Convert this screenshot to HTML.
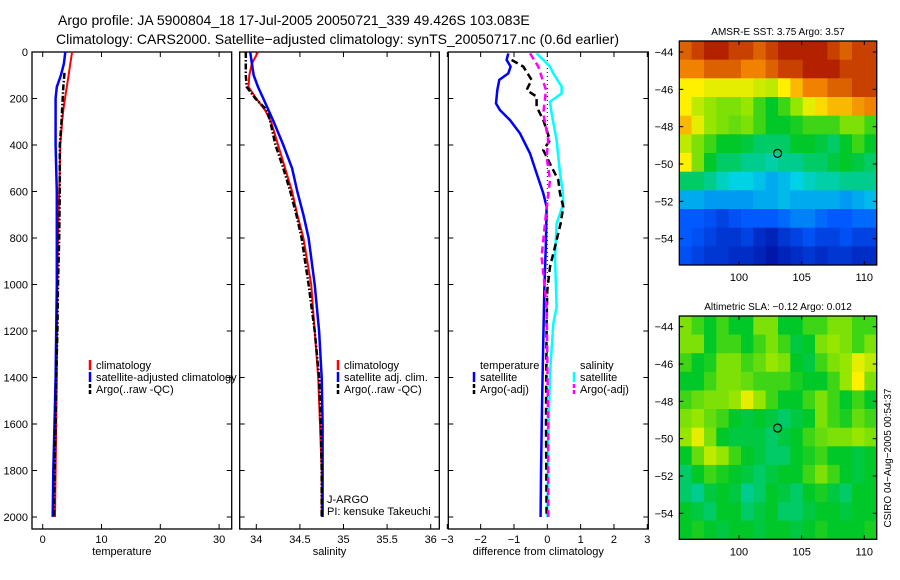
<!DOCTYPE html>
<html><head><meta charset="utf-8"><style>
body{margin:0;background:#fff;}
svg{display:block;font-family:"Liberation Sans",sans-serif;}
</style></head><body>
<svg id="fig" width="900" height="580" viewBox="0 0 900 580">
<text x="58" y="25" font-size="14">Argo profile: JA 5900804_18 17-Jul-2005 20050721_339 49.426S 103.083E</text>
<text x="56" y="44" font-size="14">Climatology: CARS2000. Satellite−adjusted climatology: synTS_20050717.nc (0.6d earlier)</text>
<g id="plots"></g>
</svg>
<script>
const depths=[0,50,100,150,200,250,300,400,500,600,700,800,1000,1200,1400,1600,1800,2000];
const tempClim=[5.0,4.7,4.4,4.1,3.8,3.5,3.3,3.0,2.9,2.8,2.7,2.6,2.5,2.45,2.4,2.3,2.2,2.1];
const tempSat=[3.85,3.6,3.1,2.4,2.2,2.2,2.2,2.2,2.3,2.4,2.4,2.4,2.4,2.3,2.2,2.0,1.8,1.7];
const argoDepths=[90,150,200,300,400,500,600,800,1000,1200,1400,1600,1800,2000];
const tempArgo=[3.7,3.5,3.4,3.2,2.9,2.9,2.9,2.8,2.6,2.5,2.3,2.2,2.0,1.9];
const salDepths=[0,50,100,150,200,250,300,400,500,600,700,800,1000,1200,1400,1600,1800,2000];
const salClim=[34.02,33.95,33.92,33.91,34.0,34.1,34.17,34.25,34.33,34.41,34.47,34.54,34.63,34.67,34.71,34.73,34.75,34.75];
const salSat=[33.93,33.95,33.97,34.02,34.08,34.14,34.2,34.31,34.41,34.47,34.54,34.6,34.67,34.72,34.75,34.76,34.76,34.76];
const salArgo=[33.88,33.88,33.88,33.89,33.99,34.12,34.16,34.22,34.31,34.39,34.46,34.52,34.6,34.67,34.72,34.74,34.75,34.75];
const dTempSatDepth=[6,34,63,92,120,164,221,250,293,350,436,522,608,666,809,1025,1240,1527,1814,2000];
const dTempSat=[-1.17,-1.22,-1.1,-1.17,-1.44,-1.5,-1.54,-1.42,-1.12,-0.82,-0.52,-0.32,-0.12,-0.02,-0.04,-0.09,-0.12,-0.16,-0.19,-0.2];
const dSalSatDepth=[6,34,63,92,149,178,214,264,379,522,594,652,738,881,1096,1168,1383,1670,2000];
const dSalSat=[-0.32,-0.12,0.08,0.18,0.43,0.43,0.08,0.13,0.28,0.38,0.46,0.48,0.28,0.23,0.28,0.18,0.08,0.03,0.0];
const dTempArgoDepth=[34,63,120,164,192,235,293,379,422,494,551,608,666,738,838,924,1025,1168,1600,2000];
const dTempArgo=[-1.07,-0.72,-0.47,-0.62,-0.32,-0.32,-0.12,0.08,-0.12,0.13,0.33,0.38,0.48,0.4,0.23,0.08,0.0,-0.02,-0.04,-0.02];
const dSalArgoDepth=[6,63,164,264,379,451,551,695,881,982,1096,1311,1670,2000];
const dSalArgo=[-0.52,-0.27,-0.04,-0.12,0.03,-0.02,0.08,-0.04,-0.17,-0.1,-0.02,0.0,0.03,0.03];
const depthTicks=[0,200,400,600,800,1000,1200,1400,1600,1800,2000];
const tempTicks=[0,10,20,30];
const salTicks=[34,34.5,35,35.5,36];
const salTickLabels=["34","34.5","35","35.5","36"];
const diffTicks=[-3,-2,-1,0,1,2,3];
const lonTicks=[100,105,110];
const latTicks=[-44,-46,-48,-50,-52,-54];
const sstGrid=[
[0.85,0.9,0.95,0.95,0.9,0.9,0.85,0.9,0.95,0.95,0.95,0.95,0.9,0.85,0.9,0.9],
[0.8,0.8,0.85,0.85,0.85,0.8,0.8,0.85,0.9,0.9,0.95,0.95,0.95,0.9,0.9,0.9],
[0.7,0.7,0.68,0.68,0.68,0.68,0.66,0.65,0.7,0.75,0.8,0.8,0.85,0.85,0.9,0.9],
[0.7,0.65,0.62,0.6,0.6,0.62,0.55,0.5,0.55,0.62,0.68,0.72,0.75,0.75,0.78,0.8],
[0.75,0.68,0.62,0.6,0.58,0.6,0.55,0.5,0.5,0.52,0.55,0.55,0.55,0.6,0.6,0.55],
[0.65,0.6,0.55,0.5,0.5,0.48,0.45,0.45,0.45,0.5,0.5,0.48,0.45,0.5,0.55,0.5],
[0.7,0.6,0.5,0.45,0.45,0.42,0.42,0.4,0.42,0.42,0.45,0.45,0.48,0.5,0.48,0.45],
[0.45,0.45,0.42,0.38,0.35,0.35,0.33,0.3,0.32,0.35,0.38,0.4,0.4,0.42,0.42,0.42],
[0.3,0.3,0.28,0.28,0.28,0.28,0.3,0.3,0.32,0.3,0.3,0.3,0.3,0.28,0.3,0.32],
[0.2,0.2,0.18,0.15,0.18,0.2,0.2,0.2,0.22,0.25,0.25,0.22,0.2,0.2,0.22,0.22],
[0.2,0.18,0.15,0.12,0.12,0.15,0.1,0.08,0.12,0.15,0.18,0.15,0.15,0.18,0.15,0.15],
[0.18,0.15,0.12,0.12,0.1,0.1,0.08,0.05,0.08,0.1,0.12,0.1,0.12,0.12,0.1,0.1]];
const slaGrid=[
[0.6,0.55,0.5,0.55,0.5,0.5,0.6,0.6,0.5,0.5,0.55,0.55,0.6,0.6,0.55,0.55],
[0.6,0.6,0.5,0.55,0.55,0.5,0.55,0.6,0.55,0.48,0.5,0.6,0.62,0.6,0.55,0.6],
[0.55,0.5,0.52,0.6,0.6,0.55,0.58,0.62,0.6,0.5,0.48,0.55,0.6,0.62,0.68,0.65],
[0.5,0.5,0.55,0.6,0.6,0.58,0.55,0.55,0.55,0.52,0.5,0.5,0.55,0.62,0.7,0.6],
[0.55,0.58,0.6,0.6,0.62,0.68,0.62,0.55,0.5,0.5,0.55,0.6,0.55,0.5,0.55,0.5],
[0.6,0.62,0.58,0.55,0.5,0.48,0.5,0.48,0.45,0.48,0.5,0.6,0.55,0.52,0.58,0.55],
[0.62,0.68,0.6,0.5,0.48,0.48,0.48,0.45,0.48,0.5,0.55,0.58,0.6,0.6,0.62,0.6],
[0.5,0.58,0.65,0.62,0.55,0.5,0.48,0.45,0.45,0.5,0.52,0.55,0.5,0.5,0.48,0.5],
[0.45,0.5,0.55,0.52,0.5,0.48,0.45,0.48,0.5,0.5,0.55,0.6,0.55,0.5,0.48,0.5],
[0.45,0.42,0.48,0.5,0.48,0.42,0.45,0.5,0.48,0.45,0.5,0.52,0.48,0.45,0.5,0.5],
[0.5,0.48,0.45,0.5,0.5,0.45,0.48,0.5,0.45,0.45,0.48,0.5,0.5,0.48,0.5,0.5],
[0.5,0.52,0.5,0.48,0.5,0.5,0.48,0.5,0.5,0.48,0.5,0.52,0.5,0.5,0.5,0.52]];
const argoLon=103.08, argoLat=-49.43;

const NS='http://www.w3.org/2000/svg';
const root=document.getElementById('plots');
function mk(tag,attrs,parent){const e=document.createElementNS(NS,tag);for(const k in attrs)e.setAttribute(k,attrs[k]);(parent||root).appendChild(e);return e;}
const yD=d=>52+d*0.2325;
const BOT=529;
function txt(x,y,s,size,anchor,parent){const t=mk('text',{x:x,y:y,'font-size':size,'text-anchor':anchor||'start'},parent);t.textContent=s;return t;}

function panel(name,x0,x1,xs,ticks,labels,title,showDepthLabels){
  const g=mk('g',{});
  
  
  const fr=mk('rect',{x:x0,y:52,width:x1-x0,height:BOT-52,fill:'none',stroke:'#000','stroke-width':1.3},g);
  
  
  ticks.forEach((v,i)=>{const x=xs(v);
    mk('line',{x1:x,y1:BOT,x2:x,y2:BOT-5,stroke:'#000'},g);
    mk('line',{x1:x,y1:52,x2:x,y2:57,stroke:'#000'},g);
    const t=txt(x,543,labels[i],11,'middle',g);
    
    });
  depthTicks.forEach(d=>{const y=yD(d);
    mk('line',{x1:x0,y1:y,x2:x0+5,y2:y,stroke:'#000'},g);
    mk('line',{x1:x1,y1:y,x2:x1-5,y2:y,stroke:'#000'},g);
    if(showDepthLabels){const t=txt(28,y+4,String(d),11,'end',g);
      
      }});
  const at=txt((x0+x1)/2-10,555,title,11,'middle',g);
  
  
  return g;
}
function line(g,ds,vs,xs,color,w,dash,nm){
  const p=ds.map((d,i)=>(i?'L':'M')+xs(vs[i]).toFixed(1)+','+yD(d).toFixed(1)).join(' ');
  const e=mk('path',{d:p,fill:'none',stroke:color,'stroke-width':w},g);
  if(dash)e.setAttribute('stroke-dasharray',dash);
  
  
}
function legend(g,x,y,items){
  items.forEach((it,i)=>{const yy=y+i*12;
    if(it.c){const m=mk('line',{x1:x,y1:yy-5,x2:x,y2:yy+5,stroke:it.c,'stroke-width':2.5},g);
      if(it.dash)m.setAttribute('stroke-dasharray',it.dash);}
    const t=txt(x+6,yy+4,it.t,11,'start',g);
    
    });
}
const xT=v=>42.7+v*5.88;
const g1=panel('temperature-panel',32,231.7,xT,tempTicks,tempTicks.map(String),'temperature',true);
line(g1,depths,tempClim,xT,'#f00',2,null,'temp-climatology-line');
line(g1,depths,tempSat,xT,'#00f',2.5,null,'temp-satellite-line');
line(g1,argoDepths,tempArgo,xT,'#000',2.5,'6,2,1.5,2','temp-argo-line');
legend(g1,90,365,[{c:'#f00',t:'climatology'},{c:'#00f',t:'satellite-adjusted climatology'},{c:'#000',t:'Argo(..raw -QC)',dash:'4,2'}]);
const xS=v=>256.3+(v-34)*87.2;
const g2=panel('salinity-panel',239.7,439.3,xS,salTicks,salTickLabels,'salinity',false);
line(g2,salDepths,salClim,xS,'#f00',2,null,'sal-climatology-line');
line(g2,salDepths,salSat,xS,'#00f',2.5,null,'sal-satellite-line');
line(g2,salDepths,salArgo,xS,'#000',2.5,'6,2,1.5,2','sal-argo-line');
legend(g2,338,365,[{c:'#f00',t:'climatology'},{c:'#00f',t:'satellite adj. clim.'},{c:'#000',t:'Argo(..raw -QC)',dash:'4,2'}]);
legend(g2,321,499,[{t:'J-ARGO'},{t:'PI: kensuke Takeuchi'}]);
const xDf=v=>547.3+v*33.33;
const g3=panel('difference-panel',448.3,648.3,xDf,diffTicks,diffTicks.map(v=>v<0?'−'+(-v):String(v)),'difference from climatology',false);
mk('line',{x1:xDf(0),y1:52,x2:xDf(0),y2:yD(2000),stroke:'#000','stroke-dasharray':'1,3'},g3);
line(g3,dSalSatDepth,dSalSat,xDf,'#0ff',2.5,null,'diff-sal-satellite-line');
line(g3,dTempSatDepth,dTempSat,xDf,'#00f',2.5,null,'diff-temp-satellite-line');
line(g3,dTempArgoDepth,dTempArgo,xDf,'#000',2.5,'7,4','diff-temp-argo-line');
line(g3,dSalArgoDepth,dSalArgo,xDf,'#f0f',2.5,'7,4','diff-sal-argo-line');
legend(g3,474,365,[{t:'temperature'},{c:'#00f',t:'satellite'},{c:'#000',t:'Argo(-adj)',dash:'4,2'}]);
legend(g3,574,365,[{t:'salinity'},{c:'#0ff',t:'satellite'},{c:'#f0f',t:'Argo(-adj)',dash:'4,2'}]);
const cmapStops=[[0,0,0,140],[0.2,0,90,255],[0.35,0,210,230],[0.5,0,200,40],[0.62,150,230,0],[0.7,255,240,0],[0.8,240,130,0],[1,160,0,0]];
function cmap(v){v=Math.max(0,Math.min(1,v));
  for(let i=1;i<cmapStops.length;i++){const a=cmapStops[i-1],b=cmapStops[i];
    if(v<=b[0]){const f=(v-a[0])/(b[0]-a[0]);
      return 'rgb('+[1,2,3].map(k=>Math.round(a[k]+(b[k]-a[k])*f)).join(',')+')';}}
  return 'rgb(160,0,0)';}
function map(name,top,bottom,lat44,lat54,grid,title){
  const g=mk('g',{});
  
  
  const L=679.3,R=876.7;
  const xL=lon=>739+(lon-100)*12.53;
  const yL=lat=>lat44+(lat+44)*(lat54-lat44)/(-10);
  const lon0=(L-739)/12.53+100, lat0=-44-(top-lat44)*10/(lat54-lat44);
  const nr=grid.length,nc=grid[0].length;
  const dlon=((R-739)/12.53+100-lon0)/nc;
  const dlat=(lat0-(-44-(bottom-lat44)*10/(lat54-lat44)))/nr;
  grid.forEach((row,i)=>row.forEach((v,j)=>{
    const x=xL(lon0+j*dlon),y=yL(lat0-i*dlat);
    const c=mk('rect',{x:x.toFixed(1),y:y.toFixed(1),width:(xL(lon0+(j+1)*dlon)-x+0.5).toFixed(1),height:(yL(lat0-(i+1)*dlat)-y+0.5).toFixed(1),fill:cmap(v)},g);
    
    }));
  mk('rect',{x:L,y:top,width:R-L,height:bottom-top,fill:'none',stroke:'#000','stroke-width':1.3},g);
  lonTicks.forEach(v=>{const x=xL(v);
    mk('line',{x1:x,y1:bottom,x2:x,y2:bottom-4,stroke:'#000'},g);
    mk('line',{x1:x,y1:top,x2:x,y2:top+4,stroke:'#000'},g);
    const t=txt(x,bottom+16,String(v),11,'middle',g);
    
    });
  latTicks.forEach(v=>{const y=yL(v);
    mk('line',{x1:L,y1:y,x2:L+4,y2:y,stroke:'#000'},g);
    mk('line',{x1:R,y1:y,x2:R-4,y2:y,stroke:'#000'},g);
    const t=txt(L-6,y+4,'−'+(-v),11,'end',g);
    
    });
  const c=mk('circle',{cx:xL(argoLon),cy:yL(argoLat),r:4,fill:'none',stroke:'#000','stroke-width':1.2},g);
  
  
  const t=txt((L+R)/2,top-6,title,10,'middle',g);
  
  
}
map('sst-map',41,265,52,238.7,sstGrid,'AMSR-E SST: 3.75 Argo: 3.57');
map('sla-map',316,539.3,326.7,513.3,slaGrid,'Altimetric SLA: −0.12 Argo: 0.012');
const cs=txt(0,0,'CSIRO 04−Aug−2005 00:54:37',10,'middle');
cs.setAttribute('transform','translate(891,458) rotate(-90)');


</script>
</body></html>
